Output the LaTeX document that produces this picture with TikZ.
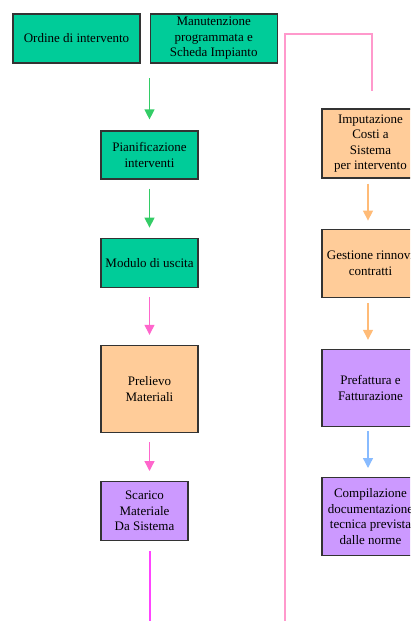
\documentclass[tikz,border=0pt]{standalone}
\usepackage{fontspec}
\setmainfont{Liberation Serif}
\usepackage{xcolor}
\usepackage{tikz}
\usetikzlibrary{arrows.meta, positioning}

\definecolor{boxgreen}{HTML}{00CC99}
\definecolor{boxorange}{HTML}{FFCC99}
\definecolor{boxpurple}{HTML}{CC99FF}
\definecolor{arrgreen}{HTML}{33CC66}
\definecolor{arrpink}{HTML}{FF66CC}
\definecolor{linemagenta}{HTML}{FF44FF}
\definecolor{looppink}{HTML}{FF99CC}
\definecolor{arrorange}{HTML}{FFBB77}
\definecolor{arrblue}{HTML}{88BBFF}

\begin{document}
\begin{tikzpicture}[
    x=1pt, y=-1pt,
    font=\fontsize{13}{15.5}\selectfont,
    box/.style={rectangle, draw=black!80, line width=1.2pt, minimum width=97pt, align=center, inner sep=1pt},
    greenbox/.style={box, fill=boxgreen},
    orangebox/.style={box, fill=boxorange},
    purplebox/.style={box, fill=boxpurple},
    arrow/.style={-{Triangle[width=10pt,length=10pt]}, line width=1.3pt}
]
\useasboundingbox (0,0) rectangle (410,621);
\clip (0,0) rectangle (410,621);

% Top row
\node[greenbox, minimum width=127pt, minimum height=49pt] (ordine) at (76.5,38.5) {Ordine di intervento};
\node[greenbox, minimum width=127pt, minimum height=49pt, right=9pt of ordine] (manut) {Manutenzione\\programmata e\\Scheda Impianto};

% Left column
\node[greenbox, minimum height=48pt] (pianif) at (149.5,155) {Pianificazione\\interventi};
\node[greenbox, minimum height=49pt, below=58pt of pianif] (modulo) {Modulo di uscita};
\node[orangebox, minimum height=87pt, below=57pt of modulo] (prelievo) {Prelievo\\Materiali};
\node[purplebox, minimum width=87pt, minimum height=59pt, below=48pt of prelievo, xshift=-5pt] (scarico) {Scarico\\Materiale\\Da Sistema};

% Right column
\node[orangebox, minimum height=69pt] (imputaz) at (370.5,143.5) {Imputazione\\Costi a\\Sistema\\per intervento};
\node[orangebox, minimum height=68pt, below=50pt of imputaz] (gestione) {Gestione rinnovi\\contratti};
\node[purplebox, minimum height=77pt, below=51pt of gestione] (prefatt) {Prefattura e\\Fatturazione};
\node[purplebox, minimum height=78pt, below=50pt of prefatt] (compil) {Compilazione\\documentazione\\tecnica prevista\\dalle norme};

% Free ends
\coordinate (join) at (149.5,78);
\coordinate (leftend) at (149.5,621);
\coordinate (rstart) at (285,621);
\coordinate (rtop) at (372,34);

% Arrows
\draw[arrow, arrgreen, shorten >=11pt] (join) -- (pianif.north);
\draw[arrow, arrgreen, shorten <=9pt, shorten >=10pt] (pianif) -- (modulo);
\draw[arrow, arrpink, shorten <=9pt, shorten >=10pt] (modulo) -- (prelievo);
\draw[arrow, arrpink, shorten <=9pt, shorten >=10pt] (prelievo.south) -- (prelievo.south |- scarico.north);
\draw[linemagenta, line width=2pt, shorten <=10pt] (scarico.south -| leftend) -- (leftend);
\draw[looppink, line width=2pt, shorten >=17pt] (rstart) |- (rtop) -- (rtop |- imputaz.north);
\draw[arrow, arrorange, shorten <=5pt, shorten >=8pt] (imputaz.south -| 368,0) -- (gestione.north -| 368,0);
\draw[arrow, arrorange, shorten <=5pt, shorten >=9pt] (gestione.south -| 368,0) -- (prefatt.north -| 368,0);
\draw[arrow, arrblue, shorten <=4pt, shorten >=9pt] (prefatt.south -| 368,0) -- (compil.north -| 368,0);

\end{tikzpicture}
\end{document}
